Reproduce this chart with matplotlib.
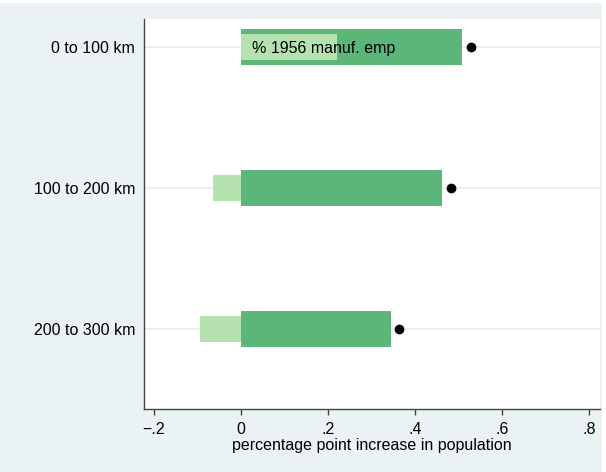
import matplotlib.pyplot as plt
import numpy as np
from matplotlib.patches import Rectangle

plt.rcParams['font.family'] = ['Liberation Sans', 'DejaVu Sans']

cats = ['0 to 100 km', '100 to 200 km', '200 to 300 km']
total_inc = [0.509, 0.462, 0.344]
manuf_inc = [0.22, -0.064, -0.094]
point_est = [0.529, 0.482, 0.364]
xticks = [-0.2, 0, 0.2, 0.4, 0.6, 0.8]
xticklabels = ['\u2212.2', '0', '.2', '.4', '.6', '.8']

bg = '#eaf2f3'
dark = '#5cb67a'
light = '#b6e2b0'

fig = plt.figure(figsize=(6.06, 4.72), dpi=100)
fig.patches.append(Rectangle((0, 0), 602 / 606, 469 / 472, transform=fig.transFigure,
                             facecolor=bg, edgecolor='none', zorder=-10))
ax = fig.add_axes([143.5 / 606, 1 - 409 / 472, (600 - 143.5) / 606, (409 - 19) / 472])

pos = np.arange(1, len(cats) + 1)
for p in pos:
    ax.axhline(p, color='#e6eef0', lw=1.2, zorder=0)

ax.barh(pos, total_inc, height=0.25, color=dark, zorder=2)
ax.barh(pos, manuf_inc, height=0.185, color=light, zorder=3)
ax.plot(point_est, pos, 'o', color='black', ms=6, zorder=4)
ax.text(0.025, 1.01, '% 1956 manuf. emp', fontsize=11.5, va='center', ha='left', zorder=5)

ax.set_xlim(-0.224, 0.825)
ax.set_ylim(3.567, 0.801)
ax.set_yticks(pos)
ax.set_yticklabels(cats, fontsize=11.5)
ax.set_xticks(xticks)
ax.set_xticklabels(xticklabels, fontsize=11.5)
ax.tick_params(axis='y', length=0, pad=6)
ax.tick_params(axis='x', length=4, width=1, color='#444444', pad=5)
ax.set_xlabel('percentage point increase in population', fontsize=11.5, labelpad=1)

for s in ['top', 'right']:
    ax.spines[s].set_visible(False)
for s in ['left', 'bottom']:
    ax.spines[s].set_color('#444444')
    ax.spines[s].set_linewidth(1)

fig.savefig('out.png', dpi=100)
